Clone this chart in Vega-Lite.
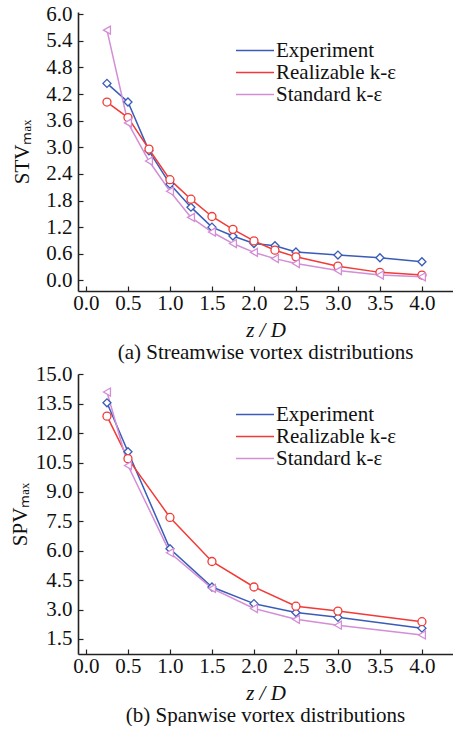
{
  "$schema": "https://vega.github.io/schema/vega-lite/v6.json",
  "background": "white",
  "padding": {"left": 9, "top": 3, "right": 0, "bottom": 0},
  "spacing": 0,
  "config": {
    "font": "Liberation Serif",
    "view": {"stroke": null},
    "axis": {"grid": false, "domainColor": "#222", "domainWidth": 1.6, "tickColor": "#222", "tickWidth": 1.2, "labelFont": "Liberation Serif", "labelFontSize": 21, "labelColor": "#111", "titleFont": "Liberation Serif", "titleFontSize": 21, "titleFontWeight": "normal", "titleColor": "#111"},
    "legend": {"labelFont": "Liberation Serif", "labelFontSize": 21, "labelColor": "#111"},
    "title": {"font": "Liberation Serif", "fontSize": 21, "fontWeight": "normal", "color": "#111"}
  },
  "datasets": {
    "stv": [
      {"z": 0.25, "v": 4.44, "model": "Experiment"},
      {"z": 0.5, "v": 4.02, "model": "Experiment"},
      {"z": 0.75, "v": 2.92, "model": "Experiment"},
      {"z": 1.0, "v": 2.17, "model": "Experiment"},
      {"z": 1.25, "v": 1.65, "model": "Experiment"},
      {"z": 1.5, "v": 1.2, "model": "Experiment"},
      {"z": 1.75, "v": 1.0, "model": "Experiment"},
      {"z": 2.0, "v": 0.83, "model": "Experiment"},
      {"z": 2.25, "v": 0.78, "model": "Experiment"},
      {"z": 2.5, "v": 0.64, "model": "Experiment"},
      {"z": 3.0, "v": 0.57, "model": "Experiment"},
      {"z": 3.5, "v": 0.51, "model": "Experiment"},
      {"z": 4.0, "v": 0.42, "model": "Experiment"},
      {"z": 0.25, "v": 4.02, "model": "Realizable k-ε"},
      {"z": 0.5, "v": 3.67, "model": "Realizable k-ε"},
      {"z": 0.75, "v": 2.96, "model": "Realizable k-ε"},
      {"z": 1.0, "v": 2.27, "model": "Realizable k-ε"},
      {"z": 1.25, "v": 1.83, "model": "Realizable k-ε"},
      {"z": 1.5, "v": 1.44, "model": "Realizable k-ε"},
      {"z": 1.75, "v": 1.15, "model": "Realizable k-ε"},
      {"z": 2.0, "v": 0.89, "model": "Realizable k-ε"},
      {"z": 2.25, "v": 0.68, "model": "Realizable k-ε"},
      {"z": 2.5, "v": 0.53, "model": "Realizable k-ε"},
      {"z": 3.0, "v": 0.32, "model": "Realizable k-ε"},
      {"z": 3.5, "v": 0.18, "model": "Realizable k-ε"},
      {"z": 4.0, "v": 0.12, "model": "Realizable k-ε"},
      {"z": 0.25, "v": 5.64, "model": "Standard k-ε"},
      {"z": 0.5, "v": 3.55, "model": "Standard k-ε"},
      {"z": 0.75, "v": 2.69, "model": "Standard k-ε"},
      {"z": 1.0, "v": 2.01, "model": "Standard k-ε"},
      {"z": 1.25, "v": 1.42, "model": "Standard k-ε"},
      {"z": 1.5, "v": 1.09, "model": "Standard k-ε"},
      {"z": 1.75, "v": 0.83, "model": "Standard k-ε"},
      {"z": 2.0, "v": 0.63, "model": "Standard k-ε"},
      {"z": 2.25, "v": 0.49, "model": "Standard k-ε"},
      {"z": 2.5, "v": 0.38, "model": "Standard k-ε"},
      {"z": 3.0, "v": 0.22, "model": "Standard k-ε"},
      {"z": 3.5, "v": 0.12, "model": "Standard k-ε"},
      {"z": 4.0, "v": 0.08, "model": "Standard k-ε"}
    ],
    "spv": [
      {"z": 0.25, "v": 13.55, "model": "Experiment"},
      {"z": 0.5, "v": 11.05, "model": "Experiment"},
      {"z": 1.0, "v": 6.1, "model": "Experiment"},
      {"z": 1.5, "v": 4.15, "model": "Experiment"},
      {"z": 2.0, "v": 3.3, "model": "Experiment"},
      {"z": 2.5, "v": 2.85, "model": "Experiment"},
      {"z": 3.0, "v": 2.6, "model": "Experiment"},
      {"z": 4.0, "v": 2.05, "model": "Experiment"},
      {"z": 0.25, "v": 12.87, "model": "Realizable k-ε"},
      {"z": 0.5, "v": 10.7, "model": "Realizable k-ε"},
      {"z": 1.0, "v": 7.7, "model": "Realizable k-ε"},
      {"z": 1.5, "v": 5.45, "model": "Realizable k-ε"},
      {"z": 2.0, "v": 4.15, "model": "Realizable k-ε"},
      {"z": 2.5, "v": 3.17, "model": "Realizable k-ε"},
      {"z": 3.0, "v": 2.92, "model": "Realizable k-ε"},
      {"z": 4.0, "v": 2.38, "model": "Realizable k-ε"},
      {"z": 0.25, "v": 14.1, "model": "Standard k-ε"},
      {"z": 0.5, "v": 10.35, "model": "Standard k-ε"},
      {"z": 1.0, "v": 5.9, "model": "Standard k-ε"},
      {"z": 1.5, "v": 4.08, "model": "Standard k-ε"},
      {"z": 2.0, "v": 3.05, "model": "Standard k-ε"},
      {"z": 2.5, "v": 2.5, "model": "Standard k-ε"},
      {"z": 3.0, "v": 2.2, "model": "Standard k-ε"},
      {"z": 4.0, "v": 1.7, "model": "Standard k-ε"}
    ]
  },
  "vconcat": [
    {
      "width": 375,
      "height": 279,
      "title": {"text": "(a) Streamwise vortex distributions", "orient": "bottom", "offset": 2, "anchor": "middle"},
      "data": {"name": "stv"},
      "encoding": {
        "x": {"field": "z", "type": "quantitative", "scale": {"domain": [-0.095, 4.37], "nice": false, "zero": false},
          "axis": {"values": [0, 0.5, 1, 1.5, 2, 2.5, 3, 3.5, 4], "format": ".1f", "tickSize": -5, "labelPadding": 6, "title": "z / D", "titleFontStyle": "italic", "titlePadding": 6}},
        "y": {"field": "v", "type": "quantitative", "scale": {"domain": [-0.24, 6.05], "nice": false, "zero": false},
          "axis": {"values": [0, 0.6, 1.2, 1.8, 2.4, 3.0, 3.6, 4.2, 4.8, 5.4, 6.0], "format": ".1f", "tickSize": -5, "labelPadding": 11, "title": "STVₘₐₓ", "titlePadding": 13}}
      },
      "layer": [
        {
          "mark": {"type": "line", "strokeWidth": 1.5},
          "encoding": {
            "color": {"field": "model", "type": "nominal",
              "scale": {"domain": ["Experiment", "Realizable k-ε", "Standard k-ε"], "range": ["#3a5cb8", "#f23a36", "#d38ed6"]},
              "legend": {"orient": "none", "legendX": 157, "legendY": 28, "title": null, "symbolType": "stroke", "symbolSize": 1444, "symbolStrokeWidth": 1.5, "labelOffset": 1, "rowPadding": 0, "clipHeight": 21}}
          }
        },
        {
          "mark": {"type": "point", "filled": true, "fill": "white", "strokeWidth": 1.3, "opacity": 1},
          "encoding": {
            "color": {"field": "model", "type": "nominal",
              "scale": {"domain": ["Experiment", "Realizable k-ε", "Standard k-ε"], "range": ["#3a5cb8", "#f23a36", "#d38ed6"]},
              "legend": null},
            "stroke": {"field": "model", "type": "nominal",
              "scale": {"domain": ["Experiment", "Realizable k-ε", "Standard k-ε"], "range": ["#3a5cb8", "#f23a36", "#d38ed6"]},
              "legend": {"orient": "none", "legendX": 174, "legendY": 28, "title": null, "symbolSize": 64, "symbolFillColor": "white", "symbolStrokeWidth": 1.3, "labelOpacity": 0, "labelOffset": 1, "rowPadding": 0, "clipHeight": 21}},
            "shape": {"field": "model", "type": "nominal",
              "scale": {"domain": ["Experiment", "Realizable k-ε", "Standard k-ε"], "range": ["diamond", "circle", "triangle-left"]}},
            "size": {"value": 64}
          }
        },
        {
          "mark": {"type": "rule", "color": "#222", "strokeWidth": 1.6},
          "data": {"values": [{"t": 6.05}]},
          "encoding": {"y": {"field": "t", "type": "quantitative"}}
        }
      ],
      "resolve": {"legend": {"color": "independent", "stroke": "independent", "shape": "independent"}}
    },
    {
      "width": 375,
      "height": 280,
      "title": {"text": "(b) Spanwise vortex distributions", "orient": "bottom", "offset": 2, "anchor": "middle"},
      "data": {"name": "spv"},
      "encoding": {
        "x": {"field": "z", "type": "quantitative", "scale": {"domain": [-0.095, 4.37], "nice": false, "zero": false},
          "axis": {"values": [0, 0.5, 1, 1.5, 2, 2.5, 3, 3.5, 4], "format": ".1f", "tickSize": -5, "labelPadding": 6, "title": "z / D", "titleFontStyle": "italic", "titlePadding": 6}},
        "y": {"field": "v", "type": "quantitative", "scale": {"domain": [0.73, 15.02], "nice": false, "zero": false},
          "axis": {"values": [1.5, 3, 4.5, 6, 7.5, 9, 10.5, 12, 13.5, 15], "format": ".1f", "tickSize": -5, "labelPadding": 11, "title": "SPVₘₐₓ", "titlePadding": 5}}
      },
      "layer": [
        {
          "mark": {"type": "line", "strokeWidth": 1.5},
          "encoding": {
            "color": {"field": "model", "type": "nominal",
              "scale": {"domain": ["Experiment", "Realizable k-ε", "Standard k-ε"], "range": ["#3a5cb8", "#f23a36", "#d38ed6"]},
              "legend": {"orient": "none", "legendX": 157, "legendY": 30, "title": null, "symbolType": "stroke", "symbolSize": 1444, "symbolStrokeWidth": 1.5, "labelOffset": 1, "rowPadding": 0, "clipHeight": 21}}
          }
        },
        {
          "mark": {"type": "point", "filled": true, "fill": "white", "strokeWidth": 1.3, "opacity": 1},
          "encoding": {
            "color": {"field": "model", "type": "nominal",
              "scale": {"domain": ["Experiment", "Realizable k-ε", "Standard k-ε"], "range": ["#3a5cb8", "#f23a36", "#d38ed6"]},
              "legend": null},
            "stroke": {"field": "model", "type": "nominal",
              "scale": {"domain": ["Experiment", "Realizable k-ε", "Standard k-ε"], "range": ["#3a5cb8", "#f23a36", "#d38ed6"]},
              "legend": {"orient": "none", "legendX": 174, "legendY": 30, "title": null, "symbolSize": 64, "symbolFillColor": "white", "symbolStrokeWidth": 1.3, "labelOpacity": 0, "labelOffset": 1, "rowPadding": 0, "clipHeight": 21}},
            "shape": {"field": "model", "type": "nominal",
              "scale": {"domain": ["Experiment", "Realizable k-ε", "Standard k-ε"], "range": ["diamond", "circle", "triangle-left"]}},
            "size": {"value": 64}
          }
        },
        {
          "mark": {"type": "rule", "color": "#222", "strokeWidth": 1.6},
          "data": {"values": [{"t": 15.02}]},
          "encoding": {"y": {"field": "t", "type": "quantitative"}}
        }
      ],
      "resolve": {"legend": {"color": "independent", "stroke": "independent", "shape": "independent"}}
    }
  ]
}
